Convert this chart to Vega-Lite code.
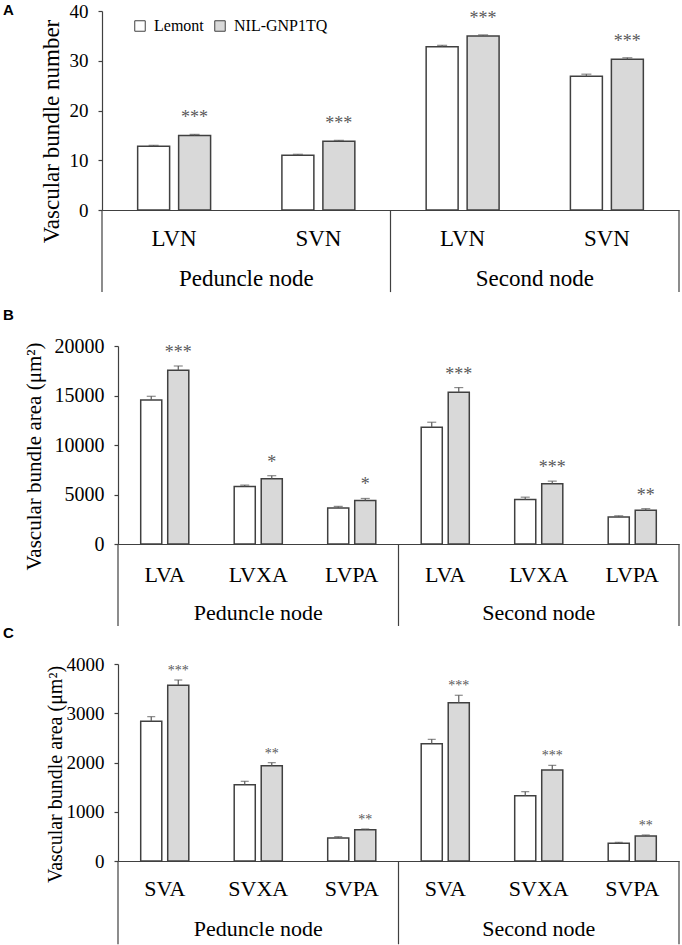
{
  "$schema": "https://vega.github.io/schema/vega-lite/v6.json",
  "padding": {"left": 3, "top": 2, "right": 0, "bottom": 0},
  "datasets": {
    "A": [
      {"node": "Peduncle node", "trait": "LVN", "genotype": "Lemont", "mean": 12.8, "se": 0.2, "sig": ""},
      {"node": "Peduncle node", "trait": "LVN", "genotype": "NIL-GNP1TQ", "mean": 15.0, "se": 0.2, "sig": "***"},
      {"node": "Peduncle node", "trait": "SVN", "genotype": "Lemont", "mean": 11.0, "se": 0.2, "sig": ""},
      {"node": "Peduncle node", "trait": "SVN", "genotype": "NIL-GNP1TQ", "mean": 13.8, "se": 0.2, "sig": "***"},
      {"node": "Second node", "trait": "LVN", "genotype": "Lemont", "mean": 32.8, "se": 0.3, "sig": ""},
      {"node": "Second node", "trait": "LVN", "genotype": "NIL-GNP1TQ", "mean": 35.0, "se": 0.2, "sig": "***"},
      {"node": "Second node", "trait": "SVN", "genotype": "Lemont", "mean": 26.9, "se": 0.4, "sig": ""},
      {"node": "Second node", "trait": "SVN", "genotype": "NIL-GNP1TQ", "mean": 30.3, "se": 0.3, "sig": "***"}
    ],
    "B": [
      {"node": "Peduncle node", "trait": "LVA", "genotype": "Lemont", "mean": 14550, "se": 370, "sig": ""},
      {"node": "Peduncle node", "trait": "LVA", "genotype": "NIL-GNP1TQ", "mean": 17550, "se": 430, "sig": "***"},
      {"node": "Peduncle node", "trait": "LVXA", "genotype": "Lemont", "mean": 5820, "se": 130, "sig": ""},
      {"node": "Peduncle node", "trait": "LVXA", "genotype": "NIL-GNP1TQ", "mean": 6600, "se": 300, "sig": "*"},
      {"node": "Peduncle node", "trait": "LVPA", "genotype": "Lemont", "mean": 3640, "se": 160, "sig": ""},
      {"node": "Peduncle node", "trait": "LVPA", "genotype": "NIL-GNP1TQ", "mean": 4400, "se": 200, "sig": "*"},
      {"node": "Second node", "trait": "LVA", "genotype": "Lemont", "mean": 11800, "se": 500, "sig": ""},
      {"node": "Second node", "trait": "LVA", "genotype": "NIL-GNP1TQ", "mean": 15330, "se": 470, "sig": "***"},
      {"node": "Second node", "trait": "LVXA", "genotype": "Lemont", "mean": 4500, "se": 230, "sig": ""},
      {"node": "Second node", "trait": "LVXA", "genotype": "NIL-GNP1TQ", "mean": 6080, "se": 270, "sig": "***"},
      {"node": "Second node", "trait": "LVPA", "genotype": "Lemont", "mean": 2720, "se": 130, "sig": ""},
      {"node": "Second node", "trait": "LVPA", "genotype": "NIL-GNP1TQ", "mean": 3400, "se": 170, "sig": "**"}
    ],
    "C": [
      {"node": "Peduncle node", "trait": "SVA", "genotype": "Lemont", "mean": 2836, "se": 95, "sig": ""},
      {"node": "Peduncle node", "trait": "SVA", "genotype": "NIL-GNP1TQ", "mean": 3567, "se": 108, "sig": "***"},
      {"node": "Peduncle node", "trait": "SVXA", "genotype": "Lemont", "mean": 1550, "se": 68, "sig": ""},
      {"node": "Peduncle node", "trait": "SVXA", "genotype": "NIL-GNP1TQ", "mean": 1936, "se": 61, "sig": "**"},
      {"node": "Peduncle node", "trait": "SVPA", "genotype": "Lemont", "mean": 467, "se": 27, "sig": ""},
      {"node": "Peduncle node", "trait": "SVPA", "genotype": "NIL-GNP1TQ", "mean": 636, "se": 14, "sig": "**"},
      {"node": "Second node", "trait": "SVA", "genotype": "Lemont", "mean": 2382, "se": 88, "sig": ""},
      {"node": "Second node", "trait": "SVA", "genotype": "NIL-GNP1TQ", "mean": 3215, "se": 150, "sig": "***"},
      {"node": "Second node", "trait": "SVXA", "genotype": "Lemont", "mean": 1327, "se": 81, "sig": ""},
      {"node": "Second node", "trait": "SVXA", "genotype": "NIL-GNP1TQ", "mean": 1848, "se": 94, "sig": "***"},
      {"node": "Second node", "trait": "SVPA", "genotype": "Lemont", "mean": 359, "se": 20, "sig": ""},
      {"node": "Second node", "trait": "SVPA", "genotype": "NIL-GNP1TQ", "mean": 508, "se": 20, "sig": "**"}
    ]
  },
  "bounds": "flush",
  "spacing": 136,
  "resolve": {"scale": {"x": "independent", "y": "independent", "xOffset": "independent", "fill": "independent"}, "legend": {"fill": "independent"}},
  "vconcat": [
    {
      "width": 577,
      "height": 199,
      "title": {"text": "A", "anchor": "start", "frame": "group", "dx": -99, "dy": 20},
      "data": {"name": "A"},
      "transform": [
        {"calculate": "datum.node + ':' + datum.trait", "as": "cat"},
        {"calculate": "datum.mean + datum.se", "as": "top"}
      ],
      "encoding": {
        "x": {"field": "cat", "type": "nominal",
          "scale": {"domain": ["Peduncle node:LVN", "Peduncle node:SVN", "Second node:LVN", "Second node:SVN"], "paddingInner": 0, "paddingOuter": 0},
          "axis": {"title": null, "labelExpr": "split(datum.label, ':')[1]", "labelAngle": 0, "ticks": false, "tickSize": 0, "labelFontSize": 23, "labelPadding": 17}}
      },
      "layer": [
        {
          "mark": {"type": "bar", "stroke": "#404040", "strokeWidth": 1.5},
          "encoding": {
            "xOffset": {"field": "genotype", "type": "nominal", "scale": {"domain": ["Lemont", "NIL-GNP1TQ"], "paddingInner": 0.22, "paddingOuter": 0.87}},
            "y": {"field": "mean", "type": "quantitative", "scale": {"domain": [0, 40], "nice": false},
              "axis": {"title": "Vascular bundle number", "values": [0, 10, 20, 30, 40], "format": "d", "tickSize": 4, "labelFontSize": 19, "labelPadding": 10, "titleFontSize": 23, "titlePadding": 6, "titleY": 120}},
            "fill": {"field": "genotype", "type": "nominal", "scale": {"domain": ["Lemont", "NIL-GNP1TQ"], "range": ["#ffffff", "#d9d9d9"]},
              "legend": {"title": null, "orient": "none", "legendX": 30, "legendY": 7, "direction": "horizontal", "symbolType": "square", "symbolSize": 110, "symbolStrokeWidth": 1, "labelFontSize": 16, "labelOffset": 6, "columnPadding": 8, "padding": 0,
                "encode": {"symbols": {"update": {"stroke": {"value": "#999999"}}}}}}
          }
        },
        {
          "mark": {"type": "rule", "color": "#595959", "strokeWidth": 1.2},
          "encoding": {
            "xOffset": {"field": "genotype", "type": "nominal"},
            "y": {"field": "mean", "type": "quantitative"},
            "y2": {"field": "top"}
          }
        },
        {
          "mark": {"type": "tick", "color": "#595959", "thickness": 1.2, "size": 10},
          "encoding": {
            "xOffset": {"field": "genotype", "type": "nominal"},
            "y": {"field": "top", "type": "quantitative"}
          }
        },
        {
          "transform": [{"filter": "datum.sig != ''"}],
          "mark": {"type": "text", "fontSize": 18, "color": "#595959", "dy": -11, "baseline": "alphabetic"},
          "encoding": {
            "xOffset": {"field": "genotype", "type": "nominal"},
            "y": {"field": "top", "type": "quantitative"},
            "text": {"field": "sig"}
          }
        },
        {
          "transform": [{"filter": "datum.genotype == 'Lemont' && datum.trait == 'LVN'"}],
          "mark": {"type": "rule", "color": "#404040", "strokeWidth": 1.2},
          "encoding": {
            "x": {"field": "cat", "type": "nominal", "bandPosition": 0},
            "y": {"datum": 0},
            "y2": {"datum": -16.5}
          }
        },
        {
          "transform": [{"filter": "datum.genotype == 'Lemont' && datum.cat == 'Second node:SVN'"}],
          "mark": {"type": "rule", "color": "#404040", "strokeWidth": 1.2},
          "encoding": {
            "x": {"field": "cat", "type": "nominal", "bandPosition": 1},
            "y": {"datum": 0},
            "y2": {"datum": -16.5}
          }
        },
        {
          "transform": [{"filter": "datum.genotype == 'Lemont' && datum.trait == 'LVN'"}],
          "mark": {"type": "text", "fontSize": 23, "baseline": "middle", "color": "#000000"},
          "encoding": {
            "x": {"field": "cat", "type": "nominal", "bandPosition": 1},
            "y": {"datum": -13.9},
            "text": {"field": "node"}
          }
        }
      ]
    },
    {
      "bounds": "flush",
      "spacing": 120,
      "resolve": {"scale": {"x": "independent", "y": "independent", "xOffset": "independent", "fill": "independent"}, "legend": {"fill": "independent"}},
      "vconcat": [
        {
          "width": 577,
          "height": 198,
          "title": {"text": "B", "anchor": "start", "frame": "group", "dx": -99, "dy": -9},
          "data": {"name": "B"},
          "transform": [
            {"calculate": "datum.node + ':' + datum.trait", "as": "cat"},
            {"calculate": "datum.mean + datum.se", "as": "top"}
          ],
          "encoding": {
            "x": {"field": "cat", "type": "nominal",
              "scale": {"domain": ["Peduncle node:LVA", "Peduncle node:LVXA", "Peduncle node:LVPA", "Second node:LVA", "Second node:LVXA", "Second node:LVPA"], "range": [16, 577], "paddingInner": 0, "paddingOuter": 0},
              "axis": {"title": null, "labelExpr": "split(datum.label, ':')[1]", "labelAngle": 0, "ticks": false, "tickSize": 0, "labelFontSize": 22, "labelPadding": 20}}
          },
          "layer": [
            {
              "mark": {"type": "bar", "stroke": "#404040", "strokeWidth": 1.5},
              "encoding": {
                "xOffset": {"field": "genotype", "type": "nominal", "scale": {"domain": ["Lemont", "NIL-GNP1TQ"], "paddingInner": 0.22, "paddingOuter": 0.84}},
                "y": {"field": "mean", "type": "quantitative", "scale": {"domain": [0, 20000], "nice": false},
                  "axis": {"title": "Vascular bundle area (μm²)", "values": [0, 5000, 10000, 15000, 20000], "format": "d", "offset": -16, "tickSize": 4, "labelFontSize": 20, "labelPadding": 10, "titleFontSize": 21, "titlePadding": 10, "titleY": 110}},
                "fill": {"field": "genotype", "type": "nominal", "scale": {"domain": ["Lemont", "NIL-GNP1TQ"], "range": ["#ffffff", "#d9d9d9"]}, "legend": null}
              }
            },
            {
              "mark": {"type": "rule", "color": "#595959", "strokeWidth": 1.2},
              "encoding": {
                "xOffset": {"field": "genotype", "type": "nominal"},
                "y": {"field": "mean", "type": "quantitative"},
                "y2": {"field": "top"}
              }
            },
            {
              "mark": {"type": "tick", "color": "#595959", "thickness": 1.2, "size": 9},
              "encoding": {
                "xOffset": {"field": "genotype", "type": "nominal"},
                "y": {"field": "top", "type": "quantitative"}
              }
            },
            {
              "transform": [{"filter": "datum.sig != ''"}],
              "mark": {"type": "text", "fontSize": 18, "color": "#595959", "dy": -8, "baseline": "alphabetic"},
              "encoding": {
                "xOffset": {"field": "genotype", "type": "nominal"},
                "y": {"field": "top", "type": "quantitative"},
                "text": {"field": "sig"}
              }
            },
            {
              "transform": [{"filter": "datum.genotype == 'Lemont' && datum.trait == 'LVA'"}],
              "mark": {"type": "rule", "color": "#404040", "strokeWidth": 1.2},
              "encoding": {
                "x": {"field": "cat", "type": "nominal", "bandPosition": 0},
                "y": {"datum": 0},
                "y2": {"datum": -8280}
              }
            },
            {
              "transform": [{"filter": "datum.genotype == 'Lemont' && datum.cat == 'Second node:LVPA'"}],
              "mark": {"type": "rule", "color": "#404040", "strokeWidth": 1.2},
              "encoding": {
                "x": {"field": "cat", "type": "nominal", "bandPosition": 1},
                "y": {"datum": 0},
                "y2": {"datum": -8280}
              }
            },
            {
              "transform": [{"filter": "datum.genotype == 'Lemont' && datum.trait == 'LVXA'"}],
              "mark": {"type": "text", "fontSize": 22, "baseline": "middle", "color": "#000000"},
              "encoding": {
                "x": {"field": "cat", "type": "nominal", "bandPosition": 0.5},
                "y": {"datum": -6970},
                "text": {"field": "node"}
              }
            }
          ]
        },
        {
          "width": 577,
          "height": 197,
          "title": {"text": "C", "anchor": "start", "frame": "group", "dx": -99, "dy": -10},
          "data": {"name": "C"},
          "transform": [
            {"calculate": "datum.node + ':' + datum.trait", "as": "cat"},
            {"calculate": "datum.mean + datum.se", "as": "top"}
          ],
          "encoding": {
            "x": {"field": "cat", "type": "nominal",
              "scale": {"domain": ["Peduncle node:SVA", "Peduncle node:SVXA", "Peduncle node:SVPA", "Second node:SVA", "Second node:SVXA", "Second node:SVPA"], "range": [16, 577], "paddingInner": 0, "paddingOuter": 0},
              "axis": {"title": null, "labelExpr": "split(datum.label, ':')[1]", "labelAngle": 0, "ticks": false, "tickSize": 0, "labelFontSize": 22, "labelPadding": 17}}
          },
          "layer": [
            {
              "mark": {"type": "bar", "stroke": "#404040", "strokeWidth": 1.5},
              "encoding": {
                "xOffset": {"field": "genotype", "type": "nominal", "scale": {"domain": ["Lemont", "NIL-GNP1TQ"], "paddingInner": 0.22, "paddingOuter": 0.84}},
                "y": {"field": "mean", "type": "quantitative", "scale": {"domain": [0, 4000], "nice": false},
                  "axis": {"title": "Vascular bundle area (μm²)", "values": [0, 1000, 2000, 3000, 4000], "format": "d", "offset": -16, "tickSize": 4, "labelFontSize": 19, "labelPadding": 10, "titleFontSize": 20, "titlePadding": 1, "titleY": 110}},
                "fill": {"field": "genotype", "type": "nominal", "scale": {"domain": ["Lemont", "NIL-GNP1TQ"], "range": ["#ffffff", "#d9d9d9"]}, "legend": null}
              }
            },
            {
              "mark": {"type": "rule", "color": "#595959", "strokeWidth": 1.2},
              "encoding": {
                "xOffset": {"field": "genotype", "type": "nominal"},
                "y": {"field": "mean", "type": "quantitative"},
                "y2": {"field": "top"}
              }
            },
            {
              "mark": {"type": "tick", "color": "#595959", "thickness": 1.2, "size": 8},
              "encoding": {
                "xOffset": {"field": "genotype", "type": "nominal"},
                "y": {"field": "top", "type": "quantitative"}
              }
            },
            {
              "transform": [{"filter": "datum.sig != ''"}],
              "mark": {"type": "text", "fontSize": 14, "color": "#595959", "dy": -5, "baseline": "alphabetic"},
              "encoding": {
                "xOffset": {"field": "genotype", "type": "nominal"},
                "y": {"field": "top", "type": "quantitative"},
                "text": {"field": "sig"}
              }
            },
            {
              "transform": [{"filter": "datum.genotype == 'Lemont' && datum.trait == 'SVA'"}],
              "mark": {"type": "rule", "color": "#404040", "strokeWidth": 1.2},
              "encoding": {
                "x": {"field": "cat", "type": "nominal", "bandPosition": 0},
                "y": {"datum": 0},
                "y2": {"datum": -1690}
              }
            },
            {
              "transform": [{"filter": "datum.genotype == 'Lemont' && datum.cat == 'Second node:SVPA'"}],
              "mark": {"type": "rule", "color": "#404040", "strokeWidth": 1.2},
              "encoding": {
                "x": {"field": "cat", "type": "nominal", "bandPosition": 1},
                "y": {"datum": 0},
                "y2": {"datum": -1690}
              }
            },
            {
              "transform": [{"filter": "datum.genotype == 'Lemont' && datum.trait == 'SVXA'"}],
              "mark": {"type": "text", "fontSize": 22, "baseline": "middle", "color": "#000000"},
              "encoding": {
                "x": {"field": "cat", "type": "nominal", "bandPosition": 0.5},
                "y": {"datum": -1381},
                "text": {"field": "node"}
              }
            }
          ]
        }
      ]
    }
  ],
  "config": {
    "view": {"stroke": null},
    "font": "Liberation Serif",
    "axis": {"grid": false, "domainColor": "#404040", "domainWidth": 1.2, "tickColor": "#404040", "tickWidth": 1.2, "labelColor": "#000000", "titleColor": "#000000", "labelFont": "Liberation Serif", "titleFont": "Liberation Serif", "titleFontWeight": "normal"},
    "legend": {"labelFont": "Liberation Serif", "labelColor": "#000000"},
    "text": {"font": "Liberation Serif"},
    "title": {"font": "Liberation Sans", "fontSize": 15, "fontWeight": "bold", "color": "#000000"}
  }
}
